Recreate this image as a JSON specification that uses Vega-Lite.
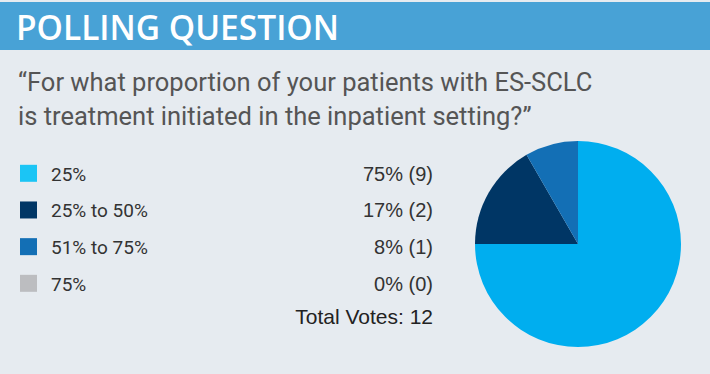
{
  "$schema": "https://vega.github.io/schema/vega-lite/v6.json",
  "background": "#e6ebf0",
  "padding": {"top": 2, "left": 0, "right": 0, "bottom": 27},
  "spacing": 20,
  "config": {"view": {"stroke": null}},
  "datasets": {
    "poll": [
      {"option": "25%", "result": "75% (9)", "votes": 9},
      {"option": "25% to 50%", "result": "17% (2)", "votes": 2},
      {"option": "51% to 75%", "result": "8% (1)", "votes": 1},
      {"option": "75%", "result": "0% (0)", "votes": 0}
    ],
    "total": [{"option": "Total", "label": "Total Votes: 12"}],
    "heading": [{"heading": "POLLING QUESTION"}]
  },
  "vconcat": [
    {
      "width": 710,
      "height": 48,
      "view": {"fill": "#48a2d6", "stroke": null},
      "data": {"name": "heading"},
      "mark": {"type": "text", "align": "left", "baseline": "alphabetic", "font": "Open Sans", "fontWeight": 600, "fontSize": 33.5, "color": "#ffffff"},
      "encoding": {"text": {"field": "heading"}, "x": {"value": 16}, "y": {"value": 38}}
    },
    {
      "title": {
        "text": ["“For what proportion of your patients with ES-SCLC", "is treatment initiated in the inpatient setting?”"],
        "anchor": "start",
        "frame": "group",
        "font": "Roboto",
        "fontSize": 25.5,
        "fontWeight": "normal",
        "color": "#555555",
        "lineHeight": 34,
        "baseline": "top",
        "offset": 11,
        "dx": 18
      },
      "spacing": 15,
      "resolve": {"scale": {"color": "independent"}},
      "hconcat": [
        {
          "width": 460,
          "height": 206,
          "layer": [
            {
              "data": {"name": "poll"},
              "mark": {"type": "square", "size": 289, "filled": true, "opacity": 1},
              "encoding": {
                "x": {"value": 28.5},
                "y": {"field": "option", "type": "nominal", "scale": {"type": "point", "domain": ["25%", "25% to 50%", "51% to 75%", "75%", "Total"], "range": [32.3, 179], "padding": 0}, "axis": null},
                "color": {"field": "option", "type": "nominal", "scale": {"domain": ["25%", "25% to 50%", "51% to 75%", "75%"], "range": ["#1bc5f5", "#003665", "#136fb5", "#bcbdc0"]}, "legend": null}
              }
            },
            {
              "data": {"name": "poll"},
              "mark": {"type": "text", "align": "left", "baseline": "middle", "dy": 1.5, "font": "Roboto", "fontSize": 19, "color": "#333333"},
              "encoding": {
                "x": {"value": 51},
                "y": {"field": "option", "type": "nominal"},
                "text": {"field": "option"}
              }
            },
            {
              "data": {"name": "poll"},
              "mark": {"type": "text", "align": "right", "baseline": "middle", "dy": 1.5, "font": "Liberation Sans", "fontSize": 20, "color": "#333333"},
              "encoding": {
                "x": {"value": 433},
                "y": {"field": "option", "type": "nominal"},
                "text": {"field": "result"}
              }
            },
            {
              "data": {"name": "total"},
              "mark": {"type": "text", "align": "right", "baseline": "middle", "dy": -2, "font": "Liberation Sans", "fontSize": 21, "color": "#222222"},
              "encoding": {
                "x": {"value": 433},
                "y": {"field": "option", "type": "nominal"},
                "text": {"field": "label"}
              }
            }
          ]
        },
        {
          "width": 206,
          "height": 206,
          "data": {"name": "poll"},
          "mark": {"type": "arc"},
          "encoding": {
            "theta": {"field": "votes", "type": "quantitative", "stack": true},
            "color": {"field": "option", "type": "nominal", "sort": ["25%", "25% to 50%", "51% to 75%", "75%"], "scale": {"domain": ["25%", "25% to 50%", "51% to 75%", "75%"], "range": ["#00aeef", "#003665", "#136fb5", "#bcbdc0"]}, "legend": null}
          }
        }
      ]
    }
  ]
}
